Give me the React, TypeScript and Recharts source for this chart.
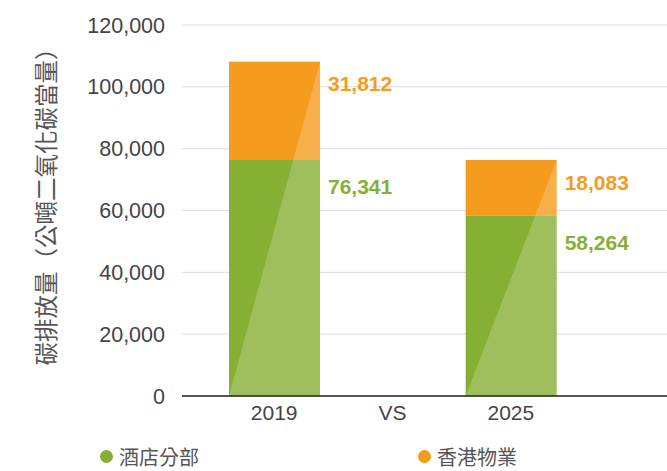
import React from "react";
import {
  BarChart,
  Bar,
  XAxis,
  YAxis,
  CartesianGrid,
  Legend,
  LabelList,
} from "recharts";

const categories = ["2019", "VS", "2025"];
const hotelValues: (number | null)[] = [76341, null, 58264];
const hkValues: (number | null)[] = [31812, null, 18083];
const yTicks = [0, 20000, 40000, 60000, 80000, 100000, 120000];
const seriesNames = ["酒店分部", "香港物業"];
const seriesColors = ["#86B034", "#F59B1E"];
const yLabel = "碳排放量（公噸二氧化碳當量）";

const data = categories.map((c, i) => ({
  year: c,
  hotel: hotelValues[i],
  hk: hkValues[i],
}));

const fmt = (v: number) => v.toLocaleString("en-US");

const makeShape = (fill: string, segKey: "hotel" | "hk") => (props: any) => {
  const { x, y, width, height, payload } = props;
  if (!payload || payload[segKey] == null || !height || height <= 0) return <g />;
  const seg = payload[segKey] as number;
  const low = segKey === "hotel" ? 0 : (payload.hotel as number);
  const total = (payload.hotel as number) + (payload.hk as number);
  const ppu = height / seg;
  const bottom = y + height + low * ppu;
  const top = bottom - total * ppu;
  const lx = (py: number) => x + (width * (bottom - py)) / (bottom - top);
  const y0 = y;
  const y1 = y + height;
  const pts = [
    [lx(y0), y0],
    [x + width, y0],
    [x + width, y1],
    [lx(y1), y1],
  ]
    .map((p) => p.join(","))
    .join(" ");
  return (
    <g>
      <rect x={x} y={y} width={width} height={height} fill={fill} />
      <polygon points={pts} fill="#ffffff" fillOpacity={0.2} />
    </g>
  );
};

const makeLabel = (color: string, baseOffset: number) => (props: any) => {
  const { x, y, width, value } = props;
  if (value == null) return null;
  return (
    <text
      x={x + width + 8}
      y={y + baseOffset}
      fill={color}
      fontSize={21}
      fontWeight="bold"
      fontFamily="'Liberation Sans', Arial, sans-serif"
    >
      {fmt(value as number)}
    </text>
  );
};

const renderLegend = () => (
  <div style={{ position: "relative", width: 667, height: 30 }}>
    {seriesNames.map((n, i) => (
      <div
        key={n}
        style={{
          position: "absolute",
          left: i === 0 ? 100 : 418,
          top: 1,
          height: 29,
          display: "flex",
          alignItems: "center",
          fontFamily: "'Noto Sans CJK TC', sans-serif",
          fontSize: 20,
          color: "#555",
          lineHeight: "29px",
        }}
      >
        <span
          style={{
            display: "inline-block",
            width: 13,
            height: 13,
            borderRadius: "50%",
            background: seriesColors[i],
            marginRight: 6,
          }}
        />
        <span>{n}</span>
      </div>
    ))}
  </div>
);

export default function App() {
  return (
    <div style={{ position: "absolute", left: 0, top: 0, background: "#fff" }}>
      <BarChart
        width={667}
        height={471}
        data={data}
        margin={{ top: 25, right: 0, bottom: 0, left: 0 }}
        barSize={91}
      >
        <CartesianGrid vertical={false} stroke="#dcdcdc" strokeWidth={1} />
        <XAxis
          dataKey="year"
          height={45}
          padding={{ left: 33, right: 97 }}
          tickLine={false}
          tickSize={0}
          tickMargin={9}
          axisLine={{ stroke: "#222", strokeWidth: 1.5 }}
          tick={{
            fontSize: 21,
            fill: "#444",
            fontFamily: "'Liberation Sans', Arial, sans-serif",
          }}
        />
        <YAxis
          width={182}
          domain={[0, 120000]}
          ticks={yTicks}
          tickFormatter={fmt}
          axisLine={false}
          tickLine={false}
          tickSize={0}
          tickMargin={17}
          tick={{
            fontSize: 21.5,
            fill: "#444",
            fontFamily: "'Liberation Sans', Arial, sans-serif",
          }}
          label={{
            content: (p: any) => {
              const vb = p.viewBox || { x: 0, y: 25, width: 182, height: 371 };
              const cx = vb.x + 45;
              const cy = vb.y + vb.height / 2 - 9.5;
              return (
                <text
                  x={cx}
                  y={cy}
                  transform={`rotate(-90, ${cx}, ${cy})`}
                  textAnchor="middle"
                  dominantBaseline="central"
                  fontSize={23.5}
                  fill="#555"
                  fontFamily="'Noto Sans CJK TC', sans-serif"
                >
                  {yLabel}
                </text>
              );
            },
          }}
        />
        <Legend
          verticalAlign="bottom"
          height={30}
          content={renderLegend}
          wrapperStyle={{ left: 0, width: 667 }}
        />
        <Bar
          dataKey="hotel"
          stackId="a"
          fill={seriesColors[0]}
          shape={makeShape(seriesColors[0], "hotel")}
          isAnimationActive={false}
        >
          <LabelList dataKey="hotel" content={makeLabel(seriesColors[0], 34)} />
        </Bar>
        <Bar
          dataKey="hk"
          stackId="a"
          fill={seriesColors[1]}
          shape={makeShape(seriesColors[1], "hk")}
          isAnimationActive={false}
        >
          <LabelList dataKey="hk" content={makeLabel(seriesColors[1], 29.7)} />
        </Bar>
      </BarChart>
    </div>
  );
}
